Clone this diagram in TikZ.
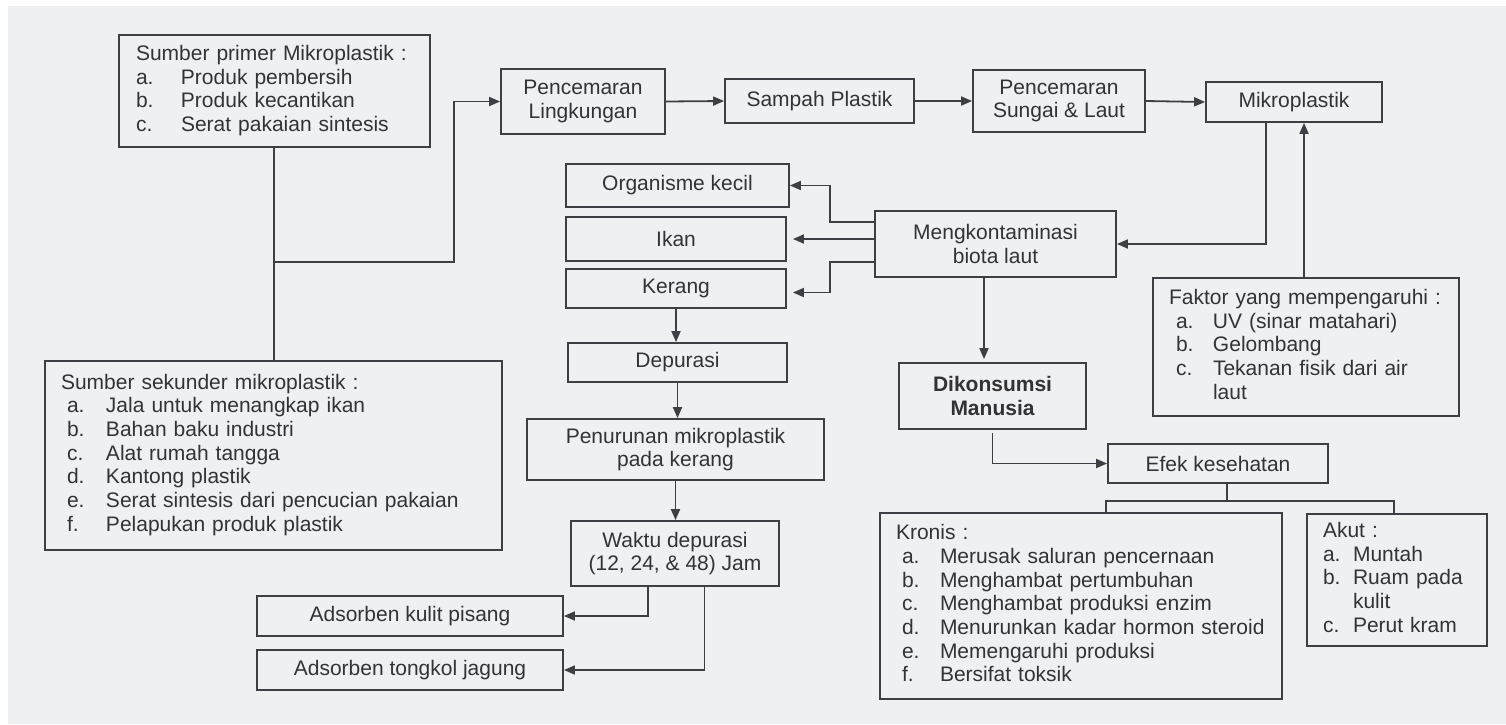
\documentclass[tikz,border=0pt]{standalone}
\usepackage{fontspec}
\setmainfont{Liberation Sans}
\usetikzlibrary{arrows.meta}
\definecolor{bgpage}{HTML}{EFF0F2}
\definecolor{ink}{HTML}{3C4044}
\definecolor{txt}{HTML}{333333}
\tikzset{
  box/.style={draw=ink, line width=1.8pt, text=txt, inner sep=0pt, align=center,
    font=\fontsize{21}{23.7}\selectfont},
  lbox/.style={box, align=left},
  arr/.style={draw=ink, line width=1.8pt, -{Triangle[length=11pt,width=9pt]}},
  ln/.style={draw=ink, line width=1.8pt}
}

\begin{document}
\begin{tikzpicture}[x=1pt,y=-1pt]
\useasboundingbox (0,0) rectangle (1506,724);
\fill[white] (0,0) rectangle (1506,724);
\fill[bgpage] (8,6) rectangle (1506,724);

% sumber mikroplastik
\node[lbox, inner xsep=17.4pt, text width=276.6pt, minimum height=112pt] (prim) at (274.3,91.3) {%
  \begin{tabular}{@{}p{45pt}@{}l@{}}
  \multicolumn{2}{@{}l@{}}{Sumber primer Mikroplastik :}\\
  a. & Produk pembersih\\
  b. & Produk kecantikan\\
  c. & Serat pakaian sintesis
  \end{tabular}};
\node[lbox, inner xsep=16pt, text width=425pt, minimum height=189pt] (sec) at (273.5,455.5) {%
  \begin{tabular}{@{\hspace{6pt}}p{39pt}@{}l@{}}
  \multicolumn{2}{@{}l@{}}{Sumber sekunder mikroplastik :}\\
  a. & Jala untuk menangkap ikan\\
  b. & Bahan baku industri\\
  c. & Alat rumah tangga\\
  d. & Kantong plastik\\
  e. & Serat sintesis dari pencucian pakaian\\
  f. & Pelapukan produk plastik
  \end{tabular}};

% alur pencemaran
\node[box, minimum width=164pt, minimum height=65pt] (lingk) at (583,101.5) {Pencemaran\\Lingkungan};
\node[box, minimum width=189pt, minimum height=44pt] (sampah) at (819.5,101) {Sampah Plastik};
\node[box, minimum width=172pt, minimum height=62pt] (sungai) at (1059,101) {Pencemaran\\Sungai \& Laut};
\node[box, minimum width=176pt, minimum height=40pt] (mikro) at (1294,102) {Mikroplastik};
\node[lbox, inner xsep=16pt, text width=274pt, minimum height=138pt] (faktor) at (1306,347) {%
  \begin{tabular}{@{\hspace{7pt}}p{37pt}@{}l@{}}
  \multicolumn{2}{@{}l@{}}{Faktor yang mempengaruhi :}\\
  a. & UV (sinar matahari)\\
  b. & Gelombang\\
  c. & Tekanan fisik dari air\\
     & laut
  \end{tabular}};

% biota laut
\node[box, minimum width=241pt, minimum height=66pt] (mengk) at (995.5,244) {Mengkontaminasi\\biota laut};
\node[box, minimum width=223pt, minimum height=43pt] (organ) at (677.5,185.5) {Organisme kecil};
\node[box, minimum width=220pt, minimum height=44pt] (ikan) at (676,239) {Ikan};
\node[box, minimum width=220pt, minimum height=39pt] (kerang) at (676,288.5) {Kerang};
\node[box, minimum width=219pt, minimum height=39pt] (depur) at (677.5,362.5) {Depurasi};
\node[box, minimum width=297pt, minimum height=61pt] (turun) at (675.5,449.5) {Penurunan mikroplastik\\pada kerang};
\node[box, minimum width=208pt, minimum height=65pt] (waktu) at (675,553.5) {Waktu depurasi\\(12, 24, \& 48) Jam};
\node[box, minimum width=306pt, minimum height=40pt] (pisang) at (410,616) {Adsorben kulit pisang};
\node[box, minimum width=306pt, minimum height=40pt] (jagung) at (410,670) {Adsorben tongkol jagung};

% manusia
\node[box, font=\fontsize{21}{23.7}\selectfont\bfseries, minimum width=187pt, minimum height=66pt] (konsumsi) at (992.5,396) {Dikonsumsi\\Manusia};
\node[box, minimum width=220pt, minimum height=39pt] (efek) at (1218,463.5) {Efek kesehatan};
\node[lbox, inner xsep=16pt, text width=370pt, minimum height=186pt] (kronis) at (1081,606) {%
  \begin{tabular}{@{\hspace{6pt}}p{38pt}@{}l@{}}
  \multicolumn{2}{@{}l@{}}{Kronis :}\\
  a. & Merusak saluran pencernaan\\
  b. & Menghambat pertumbuhan\\
  c. & Menghambat produksi enzim\\
  d. & Menurunkan kadar hormon steroid\\
  e. & Memengaruhi produksi\\
  f. & Bersifat toksik
  \end{tabular}};
\node[lbox, inner xsep=16pt, text width=148pt, minimum height=132pt] (akut) at (1397,580) {%
  \begin{tabular}{@{}p{30pt}@{}l@{}}
  \multicolumn{2}{@{}l@{}}{Akut :}\\
  a. & Muntah\\
  b. & Ruam pada\\
     & kulit\\
  c. & Perut kram
  \end{tabular}};

% panah
\coordinate (jct) at (273.6,262);
\draw[ln] (prim.south) -- (prim.south |- sec.north);
\draw[arr] (jct) -- ++(180,0) |- (lingk.west);
\draw[arr] (lingk.east) -- (sampah.west);
\draw[arr] (sampah.east) -- (sungai.west);
\draw[arr] (sungai.east) -- (mikro.west);
\draw[arr] ([xshift=-28pt]mikro.south) |- (mengk.east);
\draw[arr] ([xshift=-2pt]faktor.north) -- ([xshift=-2pt]faktor.north |- mikro.south);
\draw[arr] ([yshift=22pt]mengk.west) -- ++(-44,0) |- (organ.east);
\draw[arr] (mengk.west |- ikan.east) -- ([xshift=6pt]ikan.east);
\draw[arr] ([yshift=-18pt]mengk.west) -- ++(-44,0) |- ([xshift=6pt,yshift=-4pt]kerang.east);
\draw[arr] (kerang.south) -- (kerang.south |- depur.north);
\draw[arr] (depur.south) -- (depur.south |- turun.north);
\draw[arr] (turun.south) -- (turun.south |- waktu.north);
\draw[arr] ([xshift=-27pt]waktu.south) |- (pisang.east);
\draw[arr] ([xshift=29.5pt]waktu.south) |- (jagung.east);
\draw[arr] ([xshift=-11.5pt]mengk.south) -- ([xshift=-11.5pt,yshift=3pt]mengk.south |- konsumsi.north);
\draw[arr] ([yshift=-3pt]konsumsi.south) |- (efek.west);
\coordinate (split) at (1227,501);
\draw[ln] ([xshift=9pt]efek.south) -- (split);
\draw[ln] ([xshift=25pt]kronis.north) |- (split) -| ([xshift=-3pt]akut.north);
\end{tikzpicture}
\end{document}
